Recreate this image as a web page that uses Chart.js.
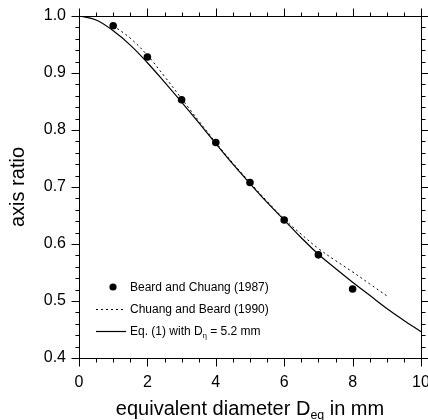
<!DOCTYPE html>
<html>
<head>
<meta charset="utf-8">
<script src="https://cdn.jsdelivr.net/npm/chart.js@4.4.1/dist/chart.umd.min.js"></script>
<style>
  html, body { margin: 0; padding: 0; background: #fff; }
</style>
</head>
<body>
<canvas id="chart" width="428" height="420"></canvas>
<script>
// Beard and Chuang (1987), measured points
const diamObs = [1, 2, 3, 4, 5, 6, 7, 8];
const ratioObs = [0.983, 0.928, 0.853, 0.778, 0.708, 0.642, 0.581, 0.521];

// Chuang and Beard (1990)
const diamCB = [1, 1.5, 2, 2.5, 3, 3.5, 4, 4.5, 5, 5.5, 6, 6.5, 7, 7.5, 8, 8.5, 9];
const ratioCB = [0.983, 0.961, 0.931, 0.894, 0.855, 0.816, 0.778, 0.742, 0.708, 0.675, 0.644, 0.617, 0.592, 0.571, 0.551, 0.530, 0.509];

// Eq. (1) with D_eta = 5.2 mm
const diamEq = [0, 0.5, 1, 1.5, 2, 2.5, 3, 3.5, 4, 4.5, 5, 5.5, 6, 6.5, 7, 7.5, 8, 8.5, 9, 9.5, 10];
const ratioEq = [1.0, 0.993, 0.974, 0.949, 0.918, 0.884, 0.849, 0.813, 0.776, 0.740, 0.706, 0.673, 0.642, 0.611, 0.582, 0.557, 0.533, 0.510, 0.487, 0.466, 0.446];

const xTicks = [0, 2, 4, 6, 8, 10];
const yTicks = [0.4, 0.5, 0.6, 0.7, 0.8, 0.9, 1.0];

const seriesLabels = [
  [{t: 'Beard and Chuang (1987)'}],
  [{t: 'Chuang and Beard (1990)'}],
  [{t: 'Eq. (1) with D'}, {t: 'η', sub: true}, {t: ' = 5.2 mm'}]
];
const xTitle = [{t: 'equivalent diameter D'}, {t: 'eq', sub: true}, {t: ' in mm'}];
const yTitle = 'axis ratio';

const FONT = 'Liberation Sans, Arial, sans-serif';

function pts(xs, ys) {
  return xs.map((x, i) => ({x: x, y: ys[i]}));
}

// draws text pieces, some of them as subscripts
function richWidth(ctx, parts, size) {
  let w = 0;
  parts.forEach(p => {
    ctx.font = (p.sub ? size * 0.62 : size) + 'px ' + FONT;
    w += ctx.measureText(p.t).width;
  });
  return w;
}
function drawRich(ctx, parts, x, y, size) {
  ctx.textAlign = 'left';
  ctx.textBaseline = 'alphabetic';
  parts.forEach(p => {
    const s = p.sub ? size * 0.62 : size;
    ctx.font = s + 'px ' + FONT;
    ctx.fillText(p.t, x, p.sub ? y + size * 0.22 : y);
    x += ctx.measureText(p.t).width;
  });
}

const frame = {
  id: 'frame',
  afterDraw(chart) {
    const {ctx, chartArea: a, scales: {x, y}} = chart;
    const L = Math.round(a.left) + 0.5, R = Math.round(a.right) + 0.5;
    const T = Math.round(a.top) + 0.5, B = Math.round(a.bottom) + 0.5;
    ctx.save();
    ctx.strokeStyle = '#000';
    ctx.lineWidth = 1;
    ctx.setLineDash([]);
    ctx.strokeRect(L, T, R - L, B - T);

    // outward tick marks on all four sides, minor ones shorter
    ctx.beginPath();
    for (let i = 0; i <= 20; i++) {
      const px = Math.round(x.getPixelForValue(i * 0.5)) + 0.5;
      const len = i % 4 === 0 ? 8 : 4;
      ctx.moveTo(px, B); ctx.lineTo(px, B + len);
      ctx.moveTo(px, T); ctx.lineTo(px, T - len);
    }
    for (let i = 0; i <= 30; i++) {
      const py = Math.round(y.getPixelForValue(0.4 + i * 0.02)) + 0.5;
      const len = i % 5 === 0 ? 8 : 4;
      ctx.moveTo(L, py); ctx.lineTo(L - len, py);
      ctx.moveTo(R, py); ctx.lineTo(R + len, py);
    }
    ctx.stroke();

    // axis titles
    ctx.fillStyle = '#000';
    const ts = 20;
    const xw = richWidth(ctx, xTitle, ts);
    drawRich(ctx, xTitle, (a.left + a.right) / 2 - xw / 2, 415, ts);
    ctx.save();
    ctx.translate(18, (a.top + a.bottom) / 2);
    ctx.rotate(-Math.PI / 2);
    ctx.font = ts + 'px ' + FONT;
    ctx.textAlign = 'center';
    ctx.textBaseline = 'middle';
    ctx.fillText(yTitle, 0, 0);
    ctx.restore();

    // legend inside the plot
    const rows = [287, 309, 331];
    const ls = 12;
    chart.data.datasets.forEach((ds, i) => {
      const ry = rows[i];
      if (i === 0) {
        ctx.beginPath();
        ctx.arc(113, ry, 3.6, 0, Math.PI * 2);
        ctx.fill();
      } else {
        ctx.beginPath();
        ctx.lineWidth = ds.borderWidth;
        ctx.setLineDash(ds.borderDash || []);
        ctx.moveTo(96, ry + 0.5);
        ctx.lineTo(126, ry + 0.5);
        ctx.stroke();
        ctx.setLineDash([]);
      }
      drawRich(ctx, seriesLabels[i], 130, ry + 4.3, ls);
    });
    ctx.restore();
  }
};

new Chart(document.getElementById('chart'), {
  type: 'scatter',
  data: {
    datasets: [
      {
        label: 'Beard and Chuang (1987)',
        data: pts(diamObs, ratioObs),
        showLine: false,
        pointRadius: 3.8,
        pointBorderWidth: 0,
        backgroundColor: '#000',
        borderColor: '#000',
        order: 0
      },
      {
        label: 'Chuang and Beard (1990)',
        data: pts(diamCB, ratioCB),
        showLine: true,
        pointRadius: 0,
        borderWidth: 1,
        borderDash: [2, 3],
        borderColor: '#000',
        tension: 0.4,
        order: 1
      },
      {
        label: 'Eq. (1) with Dη = 5.2 mm',
        data: pts(diamEq, ratioEq),
        showLine: true,
        pointRadius: 0,
        borderWidth: 1.2,
        borderColor: '#000',
        tension: 0.4,
        order: 2
      }
    ]
  },
  options: {
    responsive: false,
    animation: false,
    devicePixelRatio: 1,
    layout: { padding: { left: 0, top: 16, right: 7, bottom: 0 } },
    plugins: { legend: { display: false }, tooltip: { enabled: false } },
    scales: {
      x: {
        type: 'linear',
        min: 0,
        max: 10,
        afterFit: s => { s.height = 62; s.paddingLeft = 0; s.paddingRight = 0; },
        afterBuildTicks: s => { s.ticks = xTicks.map(v => ({value: v})); },
        grid: { display: false, drawTicks: false },
        border: { display: false },
        ticks: {
          padding: 15,
          color: '#000',
          maxRotation: 0,
          autoSkip: false,
          font: { family: FONT, size: 16 }
        }
      },
      y: {
        type: 'linear',
        min: 0.4,
        max: 1.0,
        afterFit: s => { s.width = 79; s.paddingTop = 0; s.paddingBottom = 0; },
        afterBuildTicks: s => { s.ticks = yTicks.map(v => ({value: v})); },
        grid: { display: false, drawTicks: false },
        border: { display: false },
        ticks: {
          padding: 13,
          color: '#000',
          autoSkip: false,
          font: { family: FONT, size: 16 },
          callback: v => v.toFixed(1)
        }
      }
    }
  },
  plugins: [frame]
});
</script>
</body>
</html>
